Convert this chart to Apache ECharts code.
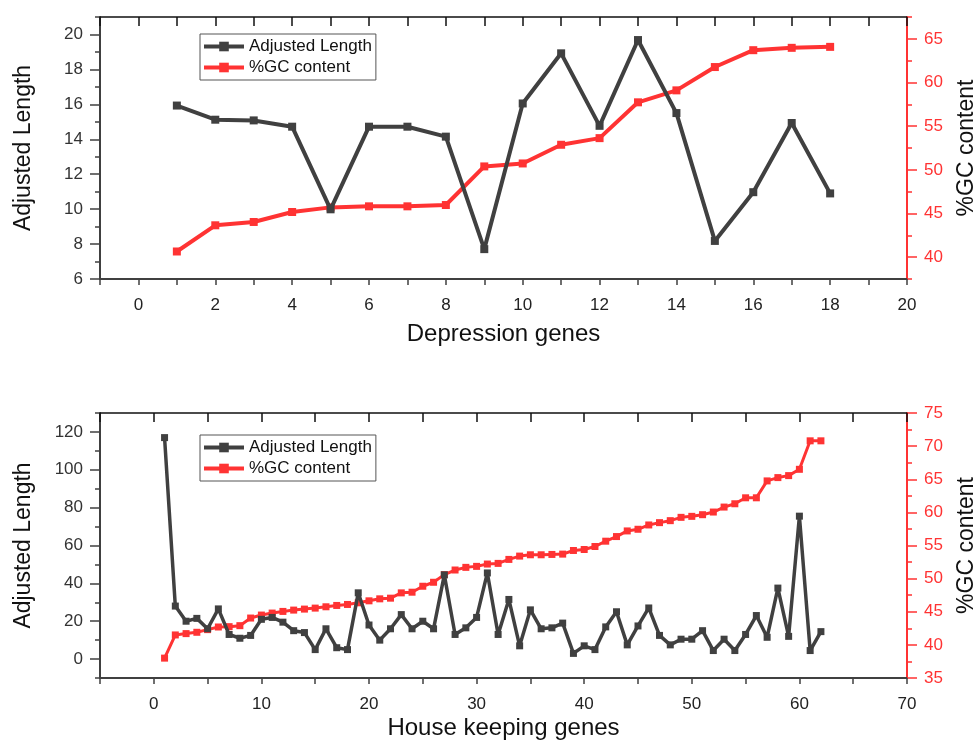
<!DOCTYPE html>
<html>
<head>
<meta charset="utf-8">
<title>Adjusted Length / %GC content</title>
<script src="https://cdn.jsdelivr.net/npm/echarts@6/dist/echarts.min.js"></script>
<style>
    html, body { margin: 0; padding: 0; background: #fff; }
    #chart { width: 975px; height: 741px; }
</style>
</head>
<body>
<div id="chart"></div>
<script>
// 抑郁相关基因
var depGenes = [1, 2, 3, 4, 5, 6, 7, 8, 9, 10, 11, 12, 13, 14, 15, 16, 17, 18];
var depLength = [15.93, 15.12, 15.08, 14.72, 9.99, 14.72, 14.72, 14.15, 7.71, 16.05,
    18.92, 14.77, 19.68, 15.5, 8.18, 10.97, 14.93, 10.9];
var depGC = [40.65, 43.65, 44.03, 45.17, 45.7, 45.82, 45.82, 45.97, 50.39, 50.73,
    52.87, 53.63, 57.73, 59.1, 61.77, 63.7, 63.97, 64.08];

// 管家基因
var hkGenes = [1, 2, 3, 4, 5, 6, 7, 8, 9, 10, 11, 12, 13, 14, 15, 16, 17, 18, 19, 20,
    21, 22, 23, 24, 25, 26, 27, 28, 29, 30, 31, 32, 33, 34, 35, 36, 37, 38, 39, 40,
    41, 42, 43, 44, 45, 46, 47, 48, 49, 50, 51, 52, 53, 54, 55, 56, 57, 58, 59, 60, 61, 62];
var hkLength = [117, 28, 20, 21.5, 16, 26.5, 13, 11, 12.5, 21,
    22, 19.5, 15, 14, 5, 16, 6, 5, 35, 18,
    10, 16, 23.5, 16, 20, 16, 44.5, 13, 16.5, 22,
    45.5, 13, 31.5, 7, 26, 16, 16.5, 19, 3, 7,
    5, 17, 25, 7.5, 17.5, 27, 12.5, 7.5, 10.5, 10.5,
    15, 4.5, 10.5, 4.5, 13, 23, 11.5, 37.5, 12, 75.5,
    4.5, 14.5];
var hkGC = [38.0, 41.5, 41.7, 41.9, 42.3, 42.7, 42.75, 42.9, 44.05, 44.5,
    44.8, 45.05, 45.25, 45.4, 45.55, 45.75, 45.95, 46.1, 46.35, 46.65,
    46.95, 47.05, 47.85, 47.95, 48.85, 49.45, 50.6, 51.3, 51.7, 51.85,
    52.2, 52.3, 52.9, 53.4, 53.6, 53.6, 53.65, 53.7, 54.25, 54.4,
    54.85, 55.65, 56.35, 57.2, 57.45, 58.1, 58.45, 58.75, 59.25, 59.4,
    59.65, 60.05, 60.8, 61.3, 62.2, 62.2, 64.75, 65.25, 65.55, 66.5,
    70.8, 70.8];

// 刻度标签
var depXLabels = [0, 2, 4, 6, 8, 10, 12, 14, 16, 18, 20];
var depLenLabels = [6, 8, 10, 12, 14, 16, 18, 20];
var depGCLabels = [40, 45, 50, 55, 60, 65];
var hkXLabels = [0, 10, 20, 30, 40, 50, 60, 70];
var hkLenLabels = [0, 20, 40, 60, 80, 100, 120];
var hkGCLabels = [35, 40, 45, 50, 55, 60, 65, 70, 75];

var FONT = 'Liberation Sans, Arial, sans-serif';
var DARK = '#404040';
var RED = '#ff3333';

function pairs(xs, ys) {
    return xs.map(function(x, i) { return [x, ys[i]]; });
}

// 底部x轴
function bottomX(grid, min, max, step, labels, name, gap) {
    return {
        type: 'value', gridIndex: grid, position: 'bottom',
        min: min, max: max, interval: step,
        axisLine: { onZero: false, lineStyle: { color: DARK, width: 2 } },
        axisTick: { length: 6, lineStyle: { color: DARK, width: 1.5 } },
        axisLabel: { customValues: labels, fontSize: 17, color: '#222', margin: 18, fontFamily: FONT },
        splitLine: { show: false },
        name: name, nameLocation: 'middle', nameGap: gap,
        nameTextStyle: { fontSize: 24, color: '#111', fontFamily: FONT }
    };
}

// 顶部边框
function topX(grid, min, max, step) {
    return {
        type: 'value', gridIndex: grid, position: 'top',
        min: min, max: max, interval: step,
        axisLine: { onZero: false, lineStyle: { color: '#111', width: 1.5 } },
        axisTick: { inside: true, length: 9, lineStyle: { color: '#111', width: 1.5 } },
        axisLabel: { show: false },
        splitLine: { show: false }
    };
}

// y轴 + 长刻度辅助轴
function yPair(grid, pos, min, max, step, labels, color, labelColor, name, gap) {
    var main = {
        type: 'value', gridIndex: grid, position: pos,
        min: min, max: max, interval: step,
        axisLine: { show: true, onZero: false, lineStyle: { color: color, width: 2 } },
        axisTick: { show: true, length: 5, lineStyle: { color: color, width: 1.5 } },
        axisLabel: { customValues: labels, fontSize: 17, color: labelColor, margin: 17, fontFamily: FONT },
        splitLine: { show: false },
        name: name, nameLocation: 'middle', nameGap: gap,
        nameTextStyle: { fontSize: 23, color: '#111', fontFamily: FONT }
    };
    var major = {
        type: 'value', gridIndex: grid, position: pos,
        min: min, max: max,
        axisLine: { show: false, onZero: false },
        axisTick: { show: true, customValues: labels, length: 10, lineStyle: { color: color, width: 1.5 } },
        axisLabel: { show: false },
        splitLine: { show: false }
    };
    return [main, major];
}

function legendAt(top) {
    return {
        data: ['Adjusted Length', '%GC content'],
        orient: 'vertical', left: 200, top: top,
        borderColor: '#555', borderWidth: 1,
        padding: [4, 4, 4, 2], itemGap: 4,
        itemWidth: 40, itemHeight: 12,
        lineStyle: { width: 4 },
        textStyle: { fontSize: 17, color: '#111', fontFamily: FONT }
    };
}

var chart = echarts.init(document.getElementById('chart'));
var option = {
    animation: false,
    backgroundColor: '#fff',
    textStyle: { fontFamily: FONT },
    legend: [legendAt(34), legendAt(435)],
    grid: [
        { left: 100, right: 68, top: 17, height: 262, outerBoundsMode: 'none', containLabel: false },
        { left: 100, right: 68, top: 413, height: 265, outerBoundsMode: 'none', containLabel: false }
    ],
    xAxis: [
        bottomX(0, -1, 20, 1, depXLabels, 'Depression genes', 43),
        topX(0, -1, 20, 1),
        bottomX(1, -5, 70, 5, hkXLabels, 'House keeping genes', 38),
        topX(1, -5, 70, 5)
    ],
    yAxis: [].concat(
        yPair(0, 'left', 6, 21, 1, depLenLabels, DARK, '#333', 'Adjusted Length', 65),
        yPair(0, 'right', 37.5, 67.5, 2.5, depGCLabels, RED, RED, '%GC content', 48),
        yPair(1, 'left', -10, 130, 10, hkLenLabels, DARK, '#333', 'Adjusted Length', 65),
        yPair(1, 'right', 35, 75, 2.5, hkGCLabels, RED, RED, '%GC content', 48)
    ),
    series: [
        {
            name: 'Adjusted Length', type: 'line', xAxisIndex: 0, yAxisIndex: 0, z: 3,
            data: pairs(depGenes, depLength),
            symbol: 'rect', symbolSize: 8,
            lineStyle: { color: DARK, width: 4 }, itemStyle: { color: DARK }
        },
        {
            name: '%GC content', type: 'line', xAxisIndex: 0, yAxisIndex: 2, z: 2,
            data: pairs(depGenes, depGC),
            symbol: 'rect', symbolSize: 8,
            lineStyle: { color: RED, width: 4 }, itemStyle: { color: RED }
        },
        {
            name: 'Adjusted Length', type: 'line', xAxisIndex: 2, yAxisIndex: 4, z: 3,
            data: pairs(hkGenes, hkLength),
            symbol: 'rect', symbolSize: 7,
            lineStyle: { color: DARK, width: 3.5 }, itemStyle: { color: DARK }
        },
        {
            name: '%GC content', type: 'line', xAxisIndex: 2, yAxisIndex: 6, z: 2,
            data: pairs(hkGenes, hkGC),
            symbol: 'rect', symbolSize: 7,
            lineStyle: { color: RED, width: 3 }, itemStyle: { color: RED }
        }
    ]
};
chart.setOption(option);
</script>
</body>
</html>
